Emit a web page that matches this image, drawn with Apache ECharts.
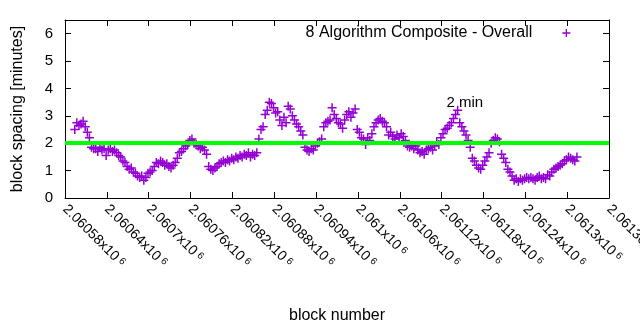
<!DOCTYPE html>
<html><head><meta charset="utf-8">
<script src="https://cdn.jsdelivr.net/npm/echarts@6/dist/echarts.min.js"></script>
<style>html,body{margin:0;padding:0;background:#fff}#c{width:640px;height:330px}</style>
</head><body><div id="c"></div>
<script>
const seriesName = '8 Algorithm Composite - Overall';
const blockNumbers = [
2060594,2060597,2060600,2060603,2060606,2060609,2060612,2060615,2060618,2060621,
2060624,2060627,2060630,2060633,2060636,2060639,2060642,2060645,2060648,2060651,
2060654,2060657,2060660,2060663,2060666,2060669,2060672,2060675,2060678,2060681,
2060684,2060687,2060690,2060693,2060696,2060699,2060702,2060705,2060708,2060711,
2060714,2060717,2060720,2060723,2060726,2060729,2060732,2060735,2060738,2060741,
2060744,2060747,2060750,2060753,2060756,2060759,2060762,2060765,2060768,2060771,
2060774,2060777,2060780,2060783,2060786,2060789,2060792,2060795,2060798,2060801,
2060804,2060807,2060810,2060813,2060816,2060819,2060822,2060825,2060828,2060831,
2060834,2060837,2060840,2060843,2060846,2060849,2060852,2060855,2060858,2060861,
2060864,2060867,2060870,2060873,2060876,2060879,2060882,2060885,2060888,2060891,
2060894,2060897,2060900,2060903,2060906,2060909,2060912,2060915,2060918,2060921,
2060924,2060927,2060930,2060933,2060936,2060939,2060942,2060945,2060948,2060951,
2060954,2060957,2060960,2060963,2060966,2060969,2060972,2060975,2060978,2060981,
2060984,2060987,2060990,2060993,2060996,2060999,2061002,2061005,2061008,2061011,
2061014,2061017,2061020,2061023,2061026,2061029,2061032,2061035,2061038,2061041,
2061044,2061047,2061050,2061053,2061056,2061059,2061062,2061065,2061068,2061071,
2061074,2061077,2061080,2061083,2061086,2061089,2061092,2061095,2061098,2061101,
2061104,2061107,2061110,2061113,2061116,2061119,2061122,2061125,2061128,2061131,
2061134,2061137,2061140,2061143,2061146,2061149,2061152,2061155,2061158,2061161,
2061164,2061167,2061170,2061173,2061176,2061179,2061182,2061185,2061188,2061191,
2061194,2061197,2061200,2061203,2061206,2061209,2061212,2061215,2061218,2061221,
2061224,2061227,2061230,2061233,2061236,2061239,2061242,2061245,2061248,2061251,
2061254,2061257,2061260,2061263,2061266,2061269,2061272,2061275,2061278,2061281,
2061284,2061287,2061290,2061293,2061296,2061299,2061302,2061305,2061308,2061311,
2061314
];
const spacingMinutes = [
2.5,2.75,2.65,2.7,2.8,2.6,2.4,2.2,1.85,1.8,
1.8,1.7,1.85,1.75,1.8,1.55,1.75,1.8,1.7,1.75,
1.65,1.55,1.5,1.35,1.3,1.15,1.05,1.1,0.95,0.9,
0.8,0.75,0.8,0.65,0.75,0.9,0.95,1.0,1.15,1.3,
1.25,1.35,1.3,1.2,1.25,1.15,1.1,1.2,1.3,1.45,
1.65,1.7,1.8,1.9,1.95,2.1,2.15,2.0,1.95,1.9,
1.8,1.85,1.75,1.6,1.15,1.05,1.0,1.1,1.15,1.25,
1.3,1.35,1.3,1.4,1.35,1.45,1.4,1.5,1.45,1.55,
1.5,1.6,1.55,1.65,1.5,1.6,1.55,1.65,2.15,2.5,
2.6,3.05,3.2,3.5,3.45,3.3,3.1,3.15,2.85,2.65,
2.95,2.75,3.35,3.25,3.0,2.85,2.7,2.6,2.45,2.3,
1.85,1.75,1.7,1.8,1.75,1.9,2.0,2.05,2.15,2.6,
2.75,2.8,2.85,3.3,3.05,2.9,2.75,2.7,2.55,2.85,
3.05,3.15,2.95,3.1,3.25,2.5,2.4,2.2,2.15,1.95,
2.2,2.1,2.35,2.6,2.75,2.85,2.9,2.8,2.75,2.6,
2.3,2.4,2.25,2.15,2.3,2.2,2.35,2.25,2.1,1.9,
1.85,1.9,1.8,1.9,1.75,1.65,1.7,1.6,1.75,1.8,
1.85,1.75,1.9,2.05,1.95,2.2,2.35,2.5,2.55,2.65,
2.75,2.9,3.05,3.2,2.75,2.6,2.45,2.3,2.1,1.85,
1.45,1.35,1.2,1.1,1.05,1.2,1.35,1.5,1.65,2.0,
2.1,2.2,2.15,2.05,1.6,1.45,1.3,1.05,0.95,0.8,
0.65,0.7,0.6,0.7,0.65,0.7,0.75,0.7,0.75,0.7,
0.65,0.75,0.8,0.7,0.75,0.7,0.85,0.8,0.95,1.05,
1.1,1.15,1.2,1.25,1.35,1.4,1.5,1.45,1.4,1.35,
1.5
];
const targetMinutes = 2;
const targetLabel = '2 min';
const targetLabelPos = [2061127, 3.47];
const xMin = 2060580, xMax = 2061360, xStep = 60;
const yMin = 0, yMax = 6.5, yStep = 1;

const FONT = '"Liberation Sans", Arial, sans-serif';
const PURPLE = '#9400d3';
const PLUS = 'path://M0,5L10,5M5,0L5,10';

const chart = echarts.init(document.getElementById('c'), null, {renderer: 'canvas'});
const pts = blockNumbers.map((b, i) => [b, spacingMinutes[i]]);

function fmtX(v) {
  const s = parseFloat((v / 1e6).toPrecision(6)).toString();
  return '{n|' + s + 'x10}{s|6}';
}
const tickCommon = {show: true, inside: true, length: 6, lineStyle: {color: '#000', width: 1}};
const xBase = {type: 'value', min: xMin, max: xMax, interval: xStep,
  splitLine: {show: false}, axisLine: {show: true, onZero: false, lineStyle: {color: '#000', width: 1}}};
const yBase = {type: 'value', min: yMin, max: yMax, interval: yStep,
  splitLine: {show: false}, axisLine: {show: true, onZero: false, lineStyle: {color: '#000', width: 1}}};

chart.setOption({
  animation: false,
  textStyle: {fontFamily: FONT},
  grid: {left: 65, right: 31, top: 20, bottom: 132, show: false, outerBoundsMode: 'none', containLabel: false},
  legend: {
    data: [{name: seriesName, icon: PLUS}],
    right: 69, top: 25, padding: 0, align: 'right',
    itemWidth: 8, itemHeight: 8,
    itemStyle: {color: 'rgba(0,0,0,0)', borderColor: PURPLE, borderWidth: 1.3},
    textStyle: {fontSize: 16, color: '#000', fontFamily: FONT, padding: [0, 25, 0, 0]}
  },
  xAxis: [
    Object.assign({}, xBase, {
      position: 'bottom',
      name: 'block number', nameLocation: 'middle', nameGap: 110,
      nameTextStyle: {fontSize: 16, color: '#000', fontFamily: FONT},
      axisTick: tickCommon,
      axisLabel: {rotate: -45, margin: 9, color: '#000', fontFamily: FONT,
        formatter: fmtX, showMaxLabel: true, hideOverlap: false,
        rich: {n: {fontSize: 14, fontFamily: FONT, color: '#000'},
               s: {fontSize: 10, fontFamily: FONT, color: '#000', verticalAlign: 'top', padding: [0, 0, 0, 3]}}}
    }),
    Object.assign({}, xBase, {position: 'top', axisTick: tickCommon, axisLabel: {show: false}})
  ],
  yAxis: [
    Object.assign({}, yBase, {
      position: 'left',
      name: 'block spacing [minutes]', nameLocation: 'middle', nameGap: 39,
      nameTextStyle: {fontSize: 16, color: '#000', fontFamily: FONT},
      axisTick: tickCommon,
      axisLabel: {margin: 12, fontSize: 15, color: '#000', fontFamily: FONT, showMaxLabel: false}
    }),
    Object.assign({}, yBase, {position: 'right', axisTick: tickCommon, axisLabel: {show: false}})
  ],
  series: [{
    name: seriesName,
    type: 'scatter',
    data: pts,
    symbol: PLUS,
    symbolSize: 9,
    itemStyle: {color: 'rgba(0,0,0,0)', borderColor: PURPLE, borderWidth: 1.5, opacity: 1},
    emphasis: {disabled: true},
    markLine: {
      silent: true, symbol: ['none', 'none'], animation: false,
      label: {show: false},
      lineStyle: {color: '#00ff00', width: 4, type: 'solid'},
      data: [{yAxis: targetMinutes}]
    },
    markPoint: {
      silent: true, symbol: 'circle', symbolSize: 0, animation: false,
      data: [{coord: targetLabelPos, value: targetLabel}],
      label: {show: true, position: 'inside', align: 'left', formatter: targetLabel,
        color: '#000', fontSize: 15, fontFamily: FONT}
    }
  }]
});
</script>
</body></html>
